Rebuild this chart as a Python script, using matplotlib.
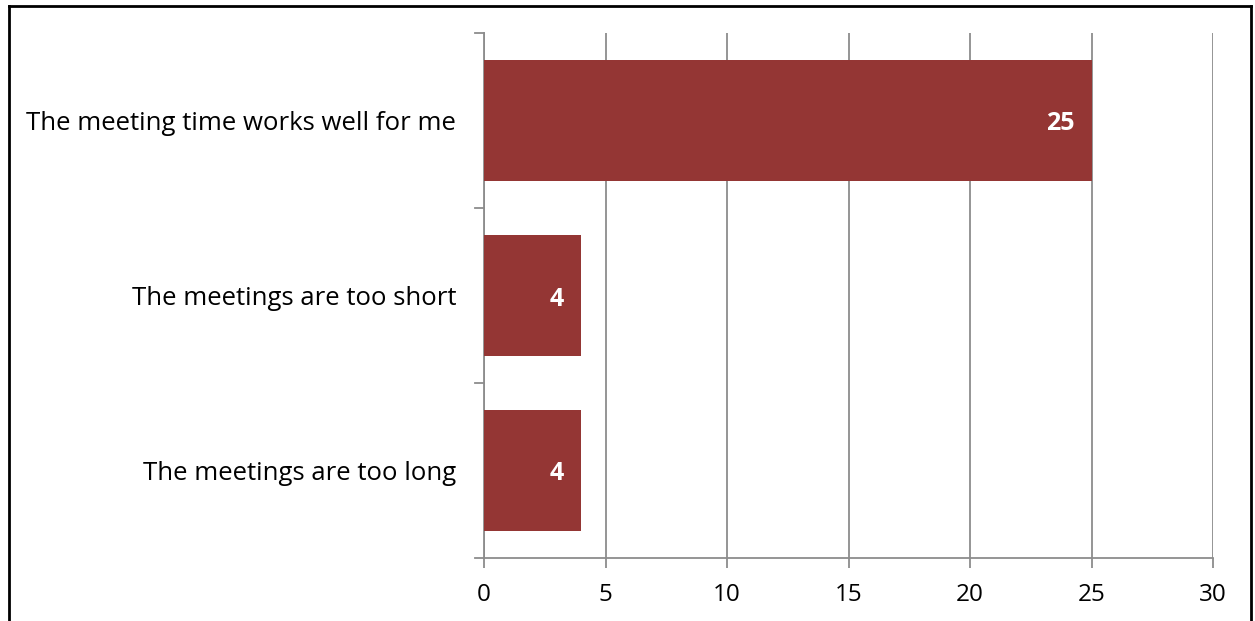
import matplotlib.pyplot as plt
from matplotlib.lines import Line2D

categories = ['The meetings are too long', 'The meetings are too short', 'The meeting time works well for me']
counts = [4, 4, 25]
xticks = [0, 5, 10, 15, 20, 25, 30]

plt.rcParams['font.family'] = ['Open Sans', 'DejaVu Sans']

W, H = 1255, 621
fig = plt.figure(figsize=(W / 100, H / 100), dpi=100)
ax = fig.add_axes([484 / W, 1 - 558 / H, (1213 - 484) / W, (558 - 33) / H])

bar_color = '#943634'
grid_color = '#8c8c8c'

ax.barh(range(len(categories)), counts, height=0.69, color=bar_color, zorder=3)
ax.set_xlim(0, 30)
ax.set_ylim(-0.5, len(categories) - 0.5)
ax.set_xticks(xticks)
ax.set_xticklabels([str(t) for t in xticks], fontsize=17.5)
ax.set_yticks(range(len(categories)))
ax.set_yticklabels(categories, fontsize=18.5)
ax.tick_params(axis='y', length=0, pad=20)
ax.tick_params(axis='x', length=7, width=1.3, color=grid_color, pad=11)

# y axis ticks sit between categories
for yb in [-0.5, 0.5, 1.5, 2.5]:
    ax.plot([-0.37, 0], [yb, yb], color=grid_color, lw=1.3, clip_on=False, zorder=4)

ax.grid(axis='x', color=grid_color, lw=1.3, zorder=0)
for s in ['top', 'right']:
    ax.spines[s].set_visible(False)
for s in ['left', 'bottom']:
    ax.spines[s].set_color(grid_color)
    ax.spines[s].set_linewidth(1.3)

for i, v in enumerate(counts):
    ax.text(v - 0.7, i - 0.02, str(v), ha='right', va='center', color='white',
            fontsize=18, fontweight='bold', zorder=5)

# outer frame
lw = 2
fig.add_artist(Line2D([8.5 / W, 8.5 / W], [0, 1 - 5.5 / H], color='black', lw=lw))
fig.add_artist(Line2D([8.5 / W, 1250.5 / W], [1 - 5.5 / H, 1 - 5.5 / H], color='black', lw=lw))
fig.add_artist(Line2D([1250.5 / W, 1250.5 / W], [0, 1 - 5.5 / H], color='black', lw=lw))

fig.savefig('out.png', dpi=100)
